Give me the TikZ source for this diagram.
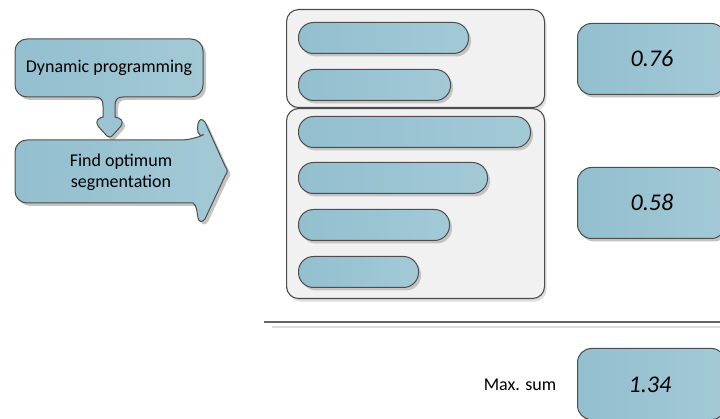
\documentclass[tikz,border=0pt]{standalone}
\usepackage{fontspec}
\setmainfont{Carlito}
\usetikzlibrary{shadows}

\definecolor{edgegray}{HTML}{4D4D4D}
\definecolor{blueA}{HTML}{93BFCF}
\definecolor{blueB}{HTML}{A3C9D6}
\definecolor{panelfill}{HTML}{F1F1F1}
\definecolor{shadegray}{HTML}{C4C4C4}
\definecolor{ruledark}{HTML}{666666}
\definecolor{rulelight}{HTML}{DDDDDD}

\tikzset{
  x=1pt, y=-1pt,
  bluefill/.style={left color=blueA, right color=blueB},
  softshadow/.style={drop shadow={shadow xshift=2.5pt, shadow yshift=-3pt, fill=shadegray, opacity=1}},
  bar/.style={draw=edgegray, line width=1pt, bluefill, rounded corners=15pt,
    minimum height=31pt, inner sep=0pt, anchor=north west, softshadow},
  panel/.style={draw=edgegray, line width=1.1pt, fill=panelfill, rounded corners=12pt,
    inner sep=0pt, anchor=north west,
    drop shadow={shadow xshift=2pt, shadow yshift=-3pt, fill=gray!25, opacity=1}},
  valuebox/.style={draw=edgegray, line width=1pt, bluefill, rounded corners=14pt,
    inner sep=0pt, anchor=north west, minimum width=148pt, minimum height=71pt, softshadow},
  valuetext/.style={font=\itshape\fontsize{24}{28}\selectfont, text=black},
  plaintext/.style={font=\fontsize{18}{21}\selectfont, text=black, align=center},
  outline/.style={draw=edgegray, line width=1pt, bluefill},
  callout shape/.style={insert path={
    (95,97) [rounded corners=12] -- (15,97) -- (15,39) -- (203,39) -- (203,97)
    [sharp corners] -- (123,97) .. controls (117,97) and (115,100) .. (115,106)
    -- (115,117) .. controls (121,118) and (124,121) .. (121,126)
    -- (113,135) .. controls (111,137.5) and (108,137.5) .. (106,135)
    -- (98,126) .. controls (95,121) and (98,118) .. (103,117)
    -- (103,106) .. controls (103,100) and (101,97) .. (95,97) -- cycle}},
  arrow shape/.style={insert path={
    (193,140) .. controls (197,138) and (197,128) .. (198,124)
    .. controls (199,119) and (202,118) .. (205,122)
    -- (225,166) .. controls (228,170) and (228,172) .. (225,176)
    -- (205,219) .. controls (202,223) and (199,222) .. (198,218)
    .. controls (197,213) and (197,205) .. (193,203)
    [rounded corners=12] -- (15,203) -- (15,140) -- cycle}}
}

\begin{document}
\begin{tikzpicture}
\useasboundingbox (0,0) rectangle (720,419);

% left-hand process shapes
\fill[shadegray, shift={(3,3)}, callout shape];
\path[outline, callout shape];
\node[plaintext] (dp) at (109,68) {Dynamic programming};

\fill[shadegray, shift={(3,3)}, arrow shape];
\path[outline, arrow shape];
\node[plaintext] (seg) at (121,172) {Find optimum\\segmentation};

% grouped segment panels
\node[panel, minimum width=258pt, minimum height=98pt] (groupA) at (286,9) {};
\node[panel, minimum width=258pt, minimum height=190pt] (groupB) at (286,108) {};

\node[bar, minimum width=170pt] (barA1) at (298,22) {};
\node[bar, minimum width=152pt] (barA2) at (298,69) {};

\node[bar, minimum width=232pt] (barB1) at (298,116) {};
\node[bar, minimum width=189pt] (barB2) at (298,162) {};
\node[bar, minimum width=151pt] (barB3) at (298,209) {};
\node[bar, minimum width=120pt] (barB4) at (298,256) {};

% scores
\node[valuebox] (scoreA) at (577,23) {};
\node[valuetext] at (652,58) {0.76};
\node[valuebox] (scoreB) at (577,167) {};
\node[valuetext] at (652,202) {0.58};

% total
\coordinate (ruleL) at (264,322.5);
\coordinate (ruleR) at (721,322.5);
\coordinate (ruleL2) at (272,327.5);
\coordinate (ruleR2) at (721,327.5);
\draw[rulelight, line width=2pt] (ruleL2) -- (ruleR2);
\draw[ruledark, line width=2pt] (ruleL) -- (ruleR);

\node[valuebox] (total) at (577,348) {};
\node[valuetext] at (650,385) {1.34};
\node[plaintext] (maxsum) at (520,385) {Max. sum};
\end{tikzpicture}
\end{document}
